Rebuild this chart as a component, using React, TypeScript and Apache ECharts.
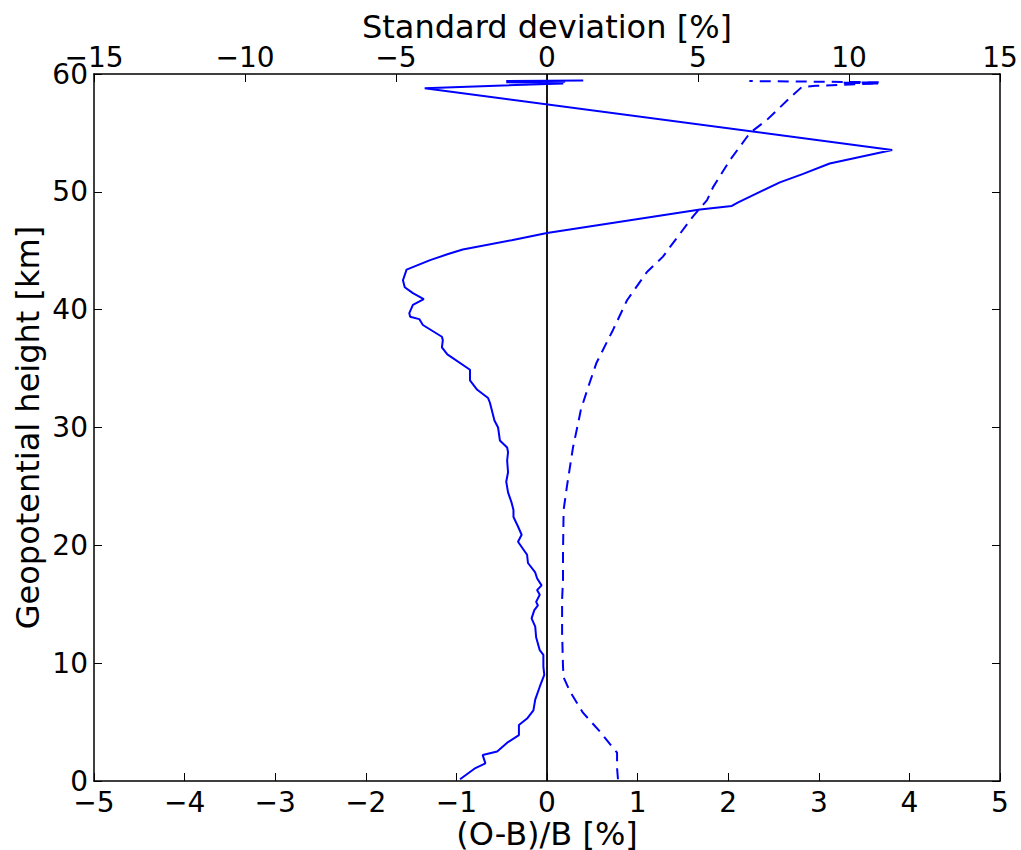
import React, { useEffect, useRef } from "react";
import * as echarts from "echarts";

// (O-B)/B profile [%] vs geopotential height [km]
const obHeight = [0.15, 1.1, 1.5, 2.2, 2.5, 3.3, 3.9, 4.75, 5.3, 6.0, 6.9, 8.0, 9.0, 9.7, 10.7, 11.1, 12.2, 13.1, 13.8, 14.5, 14.9, 15.2, 15.8, 16.2, 16.6, 17.2, 17.7, 18.5, 19.2, 20.3, 20.9, 21.6, 22.4, 23.0, 23.6, 24.5, 25.4, 26.2, 27.2, 27.9, 28.3, 28.9, 30.0, 30.6, 32.1, 32.5, 33.2, 34.0, 34.9, 36.2, 36.8, 37.4, 37.7, 38.7, 39.2, 39.4, 39.7, 40.4, 40.9, 41.4, 41.9, 42.5, 43.4, 44.2, 44.7, 45.1, 45.9, 46.5, 48.5, 48.8, 49.1, 50.0, 50.8, 51.5, 52.4, 53.55, 58.8, 59.2, 59.3, 59.35, 59.4, 59.45];
const obValue = [-0.96, -0.79, -0.68, -0.71, -0.55, -0.43, -0.31, -0.31, -0.22, -0.15, -0.13, -0.08, -0.03, -0.04, -0.04, -0.08, -0.12, -0.13, -0.17, -0.14, -0.10, -0.12, -0.08, -0.11, -0.06, -0.11, -0.13, -0.21, -0.22, -0.32, -0.28, -0.32, -0.37, -0.37, -0.39, -0.43, -0.45, -0.43, -0.44, -0.43, -0.44, -0.52, -0.54, -0.58, -0.63, -0.65, -0.77, -0.85, -0.85, -1.10, -1.16, -1.15, -1.16, -1.37, -1.41, -1.51, -1.52, -1.48, -1.36, -1.48, -1.57, -1.59, -1.55, -1.29, -1.10, -0.93, -0.39, 0.0, 1.69, 2.04, 2.11, 2.35, 2.57, 2.82, 3.12, 3.81, -1.35, 0.18, -0.45, 0.2, -0.45, 0.4];

// Standard deviation profile [%]
const sdHeight = [0.15, 1.1, 2.4, 2.8, 4.2, 5.8, 7.6, 8.8, 9.7, 12.6, 15.4, 17.1, 19.3, 23.0, 25.0, 28.3, 30.6, 31.5, 33.4, 35.5, 38.3, 40.8, 43.2, 44.5, 45.3, 47.9, 49.3, 50.4, 52.7, 55.0, 56.1, 58.0, 58.9, 59.0, 59.2, 59.25, 59.3, 59.4];
const sdValue = [2.35, 2.32, 2.32, 2.19, 1.75, 1.19, 0.76, 0.55, 0.53, 0.50, 0.50, 0.53, 0.53, 0.55, 0.66, 0.86, 1.05, 1.12, 1.36, 1.64, 2.19, 2.65, 3.31, 3.84, 4.07, 4.83, 5.30, 5.50, 6.06, 6.72, 7.28, 8.05, 8.44, 8.9, 11.0, 9.8, 11.0, 6.7];

// Zero reference line
const zeroX = [0, 0];
const zeroH = [0, 60];

const FONT = "DejaVu Sans";
const TICK_FS = 28;
const NAME_FS = 32;
const fmt = (v: number) => String(v).replace("-", "\u2212");

export default function App() {
  const ref = useRef<HTMLDivElement>(null);
  useEffect(() => {
    if (!ref.current) return;
    const chart = echarts.init(ref.current, null, { renderer: "svg" });
    const axisCommon = {
      type: "value" as const,
      nameMoveOverlap: false,
      axisLine: { show: true, onZero: false, lineStyle: { color: "#000", width: 1.5 } },
      axisTick: { show: true, inside: true, length: 8, lineStyle: { color: "#000", width: 1 } },
      splitLine: { show: false },
      nameTextStyle: { fontFamily: FONT, fontSize: NAME_FS, color: "#000" },
    };
    const label = (margin: number) => ({
      fontFamily: FONT,
      fontSize: TICK_FS,
      color: "#000",
      margin,
      formatter: fmt,
    });
    chart.setOption({
      animation: false,
      backgroundColor: "#fff",
      grid: {
        left: 94,
        right: 21,
        top: 74,
        bottom: 69,
        containLabel: false,
        outerBoundsMode: "none",
      },
      xAxis: [
        {
          ...axisCommon,
          position: "bottom",
          min: -5,
          max: 5,
          interval: 1,
          name: "(O-B)/B [%]",
          nameLocation: "middle",
          nameGap: 37,
          axisLabel: label(7),
        },
        {
          ...axisCommon,
          position: "top",
          min: -15,
          max: 15,
          interval: 5,
          name: "Standard deviation [%]",
          nameLocation: "middle",
          nameGap: 31,
          axisLabel: label(3),
        },
      ],
      yAxis: [
        {
          ...axisCommon,
          position: "left",
          min: 0,
          max: 60,
          interval: 10,
          name: "Geopotential height [km]",
          nameLocation: "middle",
          nameGap: 50,
          nameRotate: 90,
          axisLabel: label(6),
        },
        {
          ...axisCommon,
          position: "right",
          min: 0,
          max: 60,
          interval: 10,
          axisLabel: { show: false },
        },
      ],
      series: [
        {
          type: "line",
          xAxisIndex: 0,
          yAxisIndex: 0,
          data: zeroX.map((x, i) => [x, zeroH[i]]),
          symbol: "none",
          lineStyle: { color: "#000", width: 1.8 },
          silent: true,
        },
        {
          type: "line",
          xAxisIndex: 0,
          yAxisIndex: 0,
          data: obValue.map((v, i) => [v, obHeight[i]]),
          symbol: "none",
          showSymbol: false,
          lineStyle: { color: "#0000ff", width: 2 },
        },
        {
          type: "line",
          xAxisIndex: 1,
          yAxisIndex: 0,
          data: sdValue.map((v, i) => [v, sdHeight[i]]),
          symbol: "none",
          showSymbol: false,
          lineStyle: { color: "#0000ff", width: 2, type: [11, 7] },
        },
      ],
    });
    return () => chart.dispose();
  }, []);
  return <div ref={ref} style={{ position: "absolute", left: 0, top: 0, width: 1021, height: 850 }} />;
}
